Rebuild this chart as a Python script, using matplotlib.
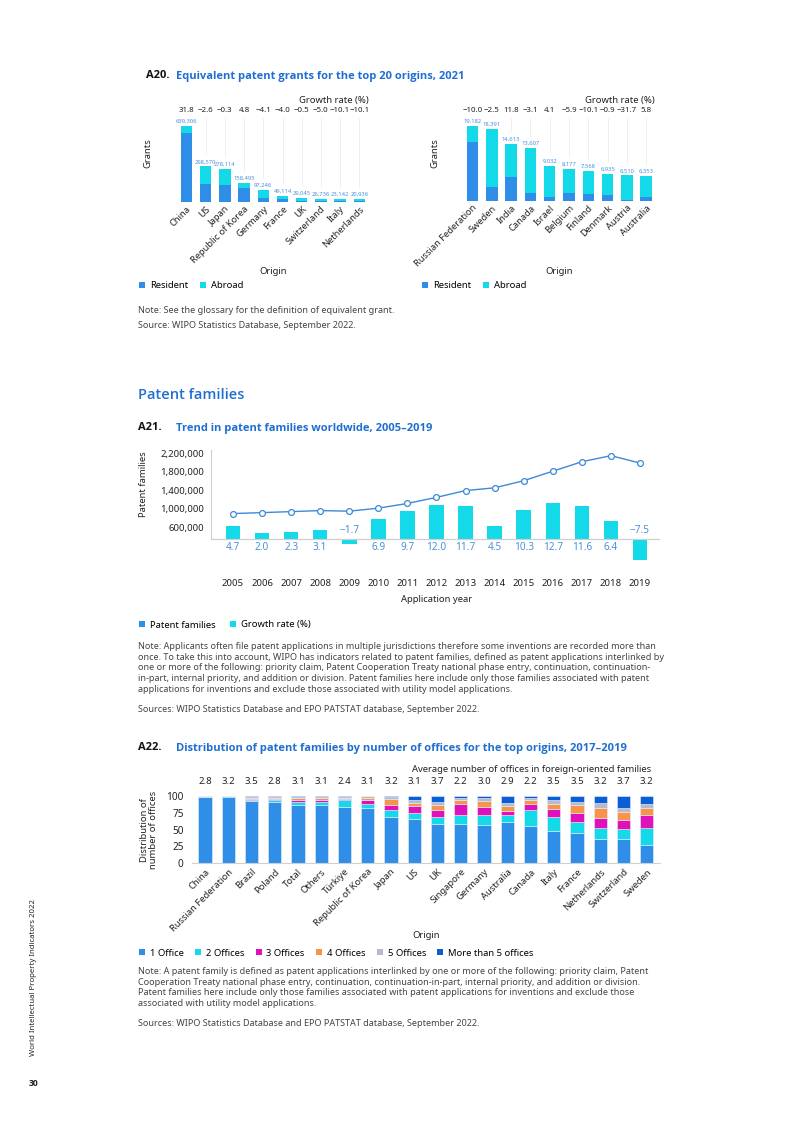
"""Recreation of page 30 of World Intellectual Property Indicators 2022 (A20-A22)."""

import matplotlib
matplotlib.use("Agg")
import matplotlib.pyplot as plt
from matplotlib.patches import Patch

plt.rcParams["font.family"] = ["Noto Sans", "DejaVu Sans"]
BOLD_FAMILY = ["Open Sans", "DejaVu Sans"]

W, H = 793, 1122

RESIDENT = "#2f8fe8"
ABROAD = "#14d9e8"
TITLE_BLUE = "#1f6fd2"
LABEL_BLUE = "#4a90dc"
NOTE_GREY = "#444444"
DARK = "#222222"
NOTE_SIZE = 6.5

# --- A20: equivalent patent grants, top 20 origins, 2021 ---
a20_left_origins = ["China", "US", "Japan", "Republic of Korea", "Germany",
                    "France", "UK", "Switzerland", "Italy", "Netherlands"]
a20_left_total = [639306, 298570, 278114, 158495, 97246, 49114, 29045, 26736, 23142, 20936]
a20_left_resident = [583000, 149000, 141000, 113000, 34000, 22500, 3000, 2000, 2000, 2000]
a20_left_growth = [31.8, -2.6, -0.3, 4.8, -4.1, -4.0, -0.5, -5.0, -10.1, -10.1]

a20_right_origins = ["Russian Federation", "Sweden", "India", "Canada", "Israel",
                     "Belgium", "Finland", "Denmark", "Austria", "Australia"]
a20_right_total = [19182, 18391, 14613, 13607, 9032, 8177, 7568, 6935, 6510, 6353]
a20_right_resident = [15150, 3430, 6170, 2050, 860, 1880, 1630, 1370, 150, 1030]
a20_right_growth = [-10.0, -2.5, 11.8, -3.1, 4.1, -5.9, -10.1, -0.9, -31.7, 5.8]

# --- A21: patent families worldwide, 2005-2019 ---
a21_years = list(range(2005, 2020))
a21_families = [899000, 919000, 941000, 963000, 950000, 1015000, 1116000, 1247000,
                1393000, 1452000, 1605000, 1809000, 2012000, 2143000, 1984000]
a21_growth = [4.7, 2.0, 2.3, 3.1, -1.7, 6.9, 9.7, 12.0, 11.7, 4.5, 10.3, 12.7, 11.6, 6.4, -7.5]

# --- A22: distribution of patent families by number of offices, 2017-2019 ---
a22_origins = ["China", "Russian Federation", "Brazil", "Poland", "Total", "Others",
               "Türkiye", "Republic of Korea", "Japan", "US", "UK", "Singapore",
               "Germany", "Australia", "Canada", "Italy", "France", "Netherlands",
               "Switzerland", "Sweden"]
a22_office1 = [98.0, 98.2, 92.5, 91.0, 86.5, 86.0, 83.5, 81.5, 68.5, 65.0, 58.5, 58.5,
               56.5, 61.5, 55.0, 48.5, 44.5, 36.5, 35.5, 27.5]
a22_office2 = [0.5, 1.2, 2.0, 3.5, 5.0, 5.0, 11.0, 7.0, 10.0, 9.5, 10.0, 12.5,
               15.0, 9.5, 23.5, 20.5, 17.0, 16.0, 15.0, 24.0]
a22_office3 = [0.2, 0.2, 1.0, 1.0, 3.0, 3.0, 1.0, 5.0, 8.0, 10.0, 11.0, 16.5,
               12.0, 6.5, 9.0, 11.0, 13.5, 14.0, 13.0, 20.0]
a22_office4 = [0.3, 0.1, 1.0, 1.0, 2.5, 2.5, 1.0, 4.0, 9.0, 5.0, 7.0, 7.0,
               9.0, 7.0, 6.0, 8.5, 11.5, 15.0, 12.0, 10.0]
a22_office5 = [0.8, 0.2, 2.0, 2.0, 1.5, 2.0, 2.0, 2.0, 3.0, 5.0, 5.0, 2.5,
               4.0, 4.5, 3.0, 5.0, 5.0, 8.0, 7.0, 7.0]
a22_office_more = [0.2, 0.1, 1.5, 1.5, 1.5, 1.5, 1.5, 0.5, 1.5, 5.5, 8.5, 3.0,
                   3.5, 11.0, 3.5, 6.5, 8.5, 10.5, 17.5, 11.5]
a22_avg_offices = [2.8, 3.2, 3.5, 2.8, 3.1, 3.1, 2.4, 3.1, 3.2, 3.1, 3.7, 2.2,
                   3.0, 2.9, 2.2, 3.5, 3.5, 3.2, 3.7, 3.2]
a22_series_names = ["1 Office", "2 Offices", "3 Offices", "4 Offices", "5 Offices",
                    "More than 5 offices"]
a22_colors = ["#2f8fe8", "#14d9e8", "#e010bb", "#f7944c", "#b9b9cc", "#0b5fd6"]


def fmt_rate(v):
    return f"{v:.1f}".replace("-", "\u2212")


def axes_px(fig, left, top, right, bottom):
    return fig.add_axes([left / W, 1 - bottom / H, (right - left) / W, (bottom - top) / H])


def text_px(fig, x, y, s, **kw):
    kw.setdefault("va", "center")
    fig.text(x / W, 1 - y / H, s, **kw)


def title_px(fig, y, num, title, num_x=138):
    text_px(fig, num_x, y, num, fontsize=8.0, fontweight="bold", color="#111111",
            family=BOLD_FAMILY)
    text_px(fig, 176, y, title, fontsize=8.0, fontweight="bold", color=TITLE_BLUE,
            family=BOLD_FAMILY)


def legend_px(fig, x, y, names, colors, spacing=1.6):
    handles = [Patch(facecolor=c, edgecolor="none") for c in colors]
    fig.legend(handles, names, loc="center left", bbox_to_anchor=(x / W, 1 - y / H),
               frameon=False, ncol=len(names), fontsize=6.8, handlelength=0.65,
               handleheight=0.65, handletextpad=0.5, columnspacing=spacing,
               borderaxespad=0, borderpad=0)


def plot_grants(fig, box, first_px, step_px, px_per_unit, origins, total, resident, growth,
                label_x, grants_x, origin_x, legend_x):
    left, top, right, bottom = box
    ax = axes_px(fig, left, top, right, bottom)
    x = list(range(len(origins)))
    abroad = [t - r for t, r in zip(total, resident)]
    ax.bar(x, resident, width=0.6, color=RESIDENT, linewidth=0)
    ax.bar(x, abroad, width=0.6, bottom=resident, color=ABROAD, linewidth=0)
    ax.set_xlim((left - first_px) / step_px, (right - first_px) / step_px)
    ax.set_ylim(0, (bottom - top) * px_per_unit)
    line_top = (bottom - 118) * px_per_unit
    for i, t in enumerate(total):
        lo = t + 12 * px_per_unit
        if lo < line_top:
            ax.vlines(i, lo, line_top, color="#efefef", linewidth=0.7, zorder=0)
        ax.annotate(f"{t:,}", xy=(i, t), xytext=(0, 1.5), textcoords="offset points",
                    ha="center", va="bottom", fontsize=4.2, color=LABEL_BLUE)
        ax.text(i, (bottom - 111) / (bottom - top), fmt_rate(growth[i]),
                transform=ax.get_xaxis_transform(), ha="center", va="center",
                fontsize=5.7, color=DARK)
    ax.set_xticks(x)
    ax.set_xticklabels(origins, rotation=45, ha="right", rotation_mode="anchor",
                       fontsize=6.7, color=DARK)
    ax.tick_params(axis="x", length=0, pad=2)
    ax.set_yticks([])
    for s in ax.spines.values():
        s.set_visible(False)
    text_px(fig, label_x, 100, "Growth rate (%)", ha="right", fontsize=6.8, color=DARK)
    text_px(fig, grants_x, 153, "Grants", ha="center", rotation=90, fontsize=6.8, color=DARK)
    text_px(fig, origin_x, 272, "Origin", ha="center", fontsize=6.8, color=DARK)
    legend_px(fig, legend_x, 286, ["Resident", "Abroad"], [RESIDENT, ABROAD], spacing=1.3)


fig = plt.figure(figsize=(W / 100, H / 100), dpi=100)

# ---------------- A20 ----------------
title_px(fig, 76, "A20.", "Equivalent patent grants for the top 20 origins, 2021", num_x=146)
plot_grants(fig, (166, 100, 372, 201.7), 186.5, 19.2, 639306 / 75.7,
            a20_left_origins, a20_left_total, a20_left_resident, a20_left_growth,
            369, 148, 273, 139)
plot_grants(fig, (452, 100, 658, 200.7), 472.5, 19.3, 19182 / 74.67,
            a20_right_origins, a20_right_total, a20_right_resident, a20_right_growth,
            655, 435, 559, 422)
text_px(fig, 138, 311, "Note: See the glossary for the definition of equivalent grant.",
        fontsize=NOTE_SIZE, color=NOTE_GREY)
text_px(fig, 138, 325, "Source: WIPO Statistics Database, September 2022.",
        fontsize=NOTE_SIZE, color=NOTE_GREY)

text_px(fig, 138, 395, "Patent families", fontsize=10.5, fontweight="semibold",
        color=TITLE_BLUE, family=BOLD_FAMILY)

# ---------------- A21 ----------------
title_px(fig, 428, "A21.", "Trend in patent families worldwide, 2005\u20132019")

L21, T21, R21, B21 = 211, 450, 660, 565
ax = axes_px(fig, L21, T21, R21, B21)
ax2 = ax.twinx()
step21 = 29.07
ax.set_xlim(2005 + (L21 - 233) / step21, 2005 + (R21 - 233) / step21)
fam_per_px = 21500
ax.set_ylim(600000 - (B21 - 527.5) * fam_per_px, 2200000 + (453 - T21) * fam_per_px)
g_per_px = 1 / 2.84
ax2.set_ylim(-(B21 - 539) * g_per_px, (539 - T21) * g_per_px)

ax2.bar(a21_years, a21_growth, width=0.5, color=ABROAD, linewidth=0)
ax2.axhline(0, color="#cfcfcf", linewidth=0.9)
for yr, g in zip(a21_years, a21_growth):
    if g >= 0:
        ax2.annotate(fmt_rate(g), xy=(yr, 0), xytext=(0, -2.2), textcoords="offset points",
                     ha="center", va="top", fontsize=7.2, color=LABEL_BLUE)
    else:
        ax2.annotate(fmt_rate(g), xy=(yr, 0), xytext=(0, 2.2), textcoords="offset points",
                     ha="center", va="bottom", fontsize=7.2, color=LABEL_BLUE)

ax.plot(a21_years, a21_families, "-o", color="#3d8ad8", linewidth=1.0, markersize=4.2,
        markerfacecolor="white", markeredgewidth=0.9)
ax.set_zorder(ax2.get_zorder() + 1)
ax.patch.set_visible(False)

ax.set_yticks([600000, 1000000, 1400000, 1800000, 2200000])
ax.set_yticklabels([f"{v:,}" for v in [600000, 1000000, 1400000, 1800000, 2200000]])
ax.tick_params(axis="y", length=0, pad=5, labelsize=6.9, labelcolor=DARK)
ax.set_xticks(a21_years)
ax.set_xticklabels([str(y) for y in a21_years])
ax.tick_params(axis="x", length=0, pad=10, labelsize=6.9, labelcolor=DARK)
for s in ["top", "right", "bottom"]:
    ax.spines[s].set_visible(False)
ax.spines["left"].set_color("#cfcfcf")
ax.spines["left"].set_bounds(600000 - (539 - 527.5) * fam_per_px, ax.get_ylim()[1])
for s in ax2.spines.values():
    s.set_visible(False)
ax2.set_yticks([])

text_px(fig, 143, 484, "Patent families", ha="center", rotation=90, fontsize=6.8, color=DARK)
text_px(fig, 437, 599, "Application year", ha="center", fontsize=6.8, color=DARK)
legend_px(fig, 139, 625, ["Patent families", "Growth rate (%)"], [RESIDENT, ABROAD],
          spacing=1.5)

note21 = ("Note: Applicants often file patent applications in multiple jurisdictions therefore "
          "some inventions are recorded more than\n"
          "once. To take this into account, WIPO has indicators related to patent families, "
          "defined as patent applications interlinked by\n"
          "one or more of the following: priority claim, Patent Cooperation Treaty national "
          "phase entry, continuation, continuation-\n"
          "in-part, internal priority, and addition or division. Patent families here include "
          "only those families associated with patent\n"
          "applications for inventions and exclude those associated with utility model "
          "applications.")
fig.text(138 / W, 1 - 642 / H, note21, fontsize=NOTE_SIZE, color=NOTE_GREY, va="top",
         linespacing=1.24)
text_px(fig, 138, 709, "Sources: WIPO Statistics Database and EPO PATSTAT database, "
        "September 2022.", fontsize=NOTE_SIZE, color=NOTE_GREY)

# ---------------- A22 ----------------
title_px(fig, 748, "A22.", "Distribution of patent families by number of offices for the "
         "top origins, 2017\u20132019")

L22, T22, R22, B22 = 192, 790, 660, 863
ax = axes_px(fig, L22, T22, R22, B22)
step22 = 23.25
ax.set_xlim((L22 - 205) / step22, (R22 - 205) / step22)
ax.set_ylim(0, (B22 - T22) / 0.67)
x22 = list(range(len(a22_origins)))
series22 = [a22_office1, a22_office2, a22_office3, a22_office4, a22_office5, a22_office_more]
base = [0.0] * len(a22_origins)
for vals, name, col in zip(series22, a22_series_names, a22_colors):
    ax.bar(x22, vals, width=0.57, bottom=base, color=col, edgecolor="#e6eef8",
           linewidth=0.4, label=name)
    base = [b + v for b, v in zip(base, vals)]
for i, v in enumerate(a22_avg_offices):
    ax.text(i, (B22 - 782) / (B22 - T22), f"{v:.1f}", transform=ax.get_xaxis_transform(),
            ha="center", va="center", fontsize=6.9, color=DARK)
ax.set_yticks([0, 25, 50, 75, 100])
ax.tick_params(axis="y", length=0, pad=6, labelsize=7.2, labelcolor=DARK)
ax.set_xticks(x22)
ax.set_xticklabels(a22_origins, rotation=45, ha="right", rotation_mode="anchor",
                   fontsize=6.8, color=DARK)
ax.tick_params(axis="x", length=0, pad=3)
for s in ["top", "right", "left"]:
    ax.spines[s].set_visible(False)
ax.spines["bottom"].set_color("#d0d0d0")
ax.spines["bottom"].set_linewidth(0.8)

text_px(fig, 651, 770, "Average number of offices in foreign-oriented families",
        ha="right", fontsize=6.8, color=DARK)
text_px(fig, 149, 830, "Distribution of\nnumber of offices", ha="center", rotation=90,
        fontsize=6.8, color=DARK, linespacing=0.95)
text_px(fig, 426, 936, "Origin", ha="center", fontsize=6.8, color=DARK)
legend_px(fig, 139, 953, a22_series_names, a22_colors, spacing=1.2)

note22 = ("Note: A patent family is defined as patent applications interlinked by one or more "
          "of the following: priority claim, Patent\n"
          "Cooperation Treaty national phase entry, continuation, continuation-in-part, "
          "internal priority, and addition or division.\n"
          "Patent families here include only those families associated with patent "
          "applications for inventions and exclude those\n"
          "associated with utility model applications.")
fig.text(138 / W, 1 - 967 / H, note22, fontsize=NOTE_SIZE, color=NOTE_GREY, va="top",
         linespacing=1.24)
text_px(fig, 138, 1024, "Sources: WIPO Statistics Database and EPO PATSTAT database, "
        "September 2022.", fontsize=NOTE_SIZE, color=NOTE_GREY)

# page furniture
text_px(fig, 34, 978, "World Intellectual Property Indicators 2022", ha="center",
        rotation=90, fontsize=5.6, color=DARK)
text_px(fig, 34, 1083, "30", ha="center", fontsize=6.2, fontweight="bold", color=DARK,
        family=BOLD_FAMILY)

fig.savefig("out.png", dpi=100)
plt.close(fig)
